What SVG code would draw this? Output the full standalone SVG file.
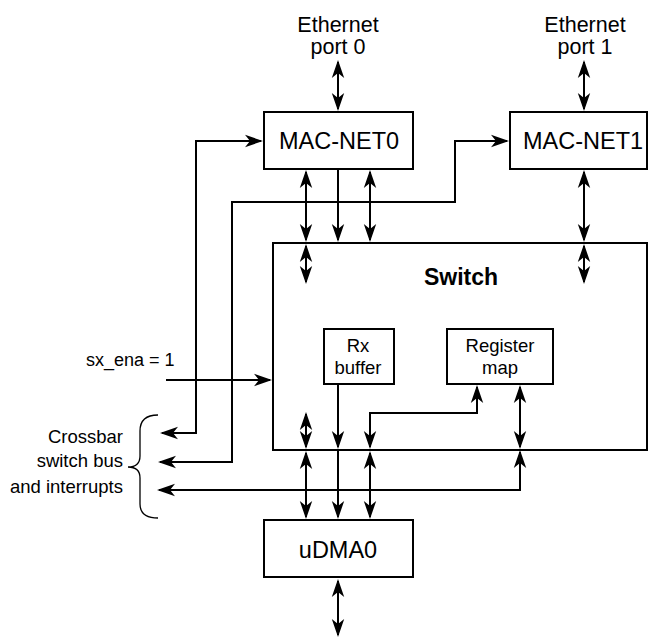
<svg xmlns="http://www.w3.org/2000/svg" width="649" height="639" viewBox="0 0 649 639">
<style>
.box{fill:#fff;stroke:#000;stroke-width:2}
.ln{fill:none;stroke:#000;stroke-width:2}
.t{font-family:"Liberation Sans",Arial,Helvetica,sans-serif;fill:#000}
.m{text-anchor:middle}
.e{text-anchor:end}
</style>
<defs>
<marker id="a" markerUnits="userSpaceOnUse" markerWidth="22" markerHeight="16" viewBox="-18 -8 22 16" refX="0" refY="0" orient="auto-start-reverse">
<path d="M2,0 L-16,-6.2 L-11,0 L-16,6.2 Z" fill="#000"/>
</marker>
</defs>
<rect width="649" height="639" fill="#fff"/>

<g id="switch">
<rect class="box" x="273" y="243" width="374" height="207"/>
<text class="t m" x="461" y="285" font-size="23" font-weight="bold">Switch</text>
</g>
<g id="mac-net0">
<rect class="box" x="264" y="112" width="149" height="57"/>
<text class="t m" x="339" y="149" font-size="23.5">MAC-NET0</text>
</g>
<g id="mac-net1">
<rect class="box" x="510" y="112" width="137" height="57"/>
<text class="t m" x="583" y="149" font-size="23.5">MAC-NET1</text>
</g>
<g id="rx-buffer">
<rect class="box" x="324" y="329" width="70" height="55"/>
<text class="t m" x="358" y="352" font-size="18.5">Rx</text>
<text class="t m" x="358" y="374" font-size="18.5">buffer</text>
</g>
<g id="register-map">
<rect class="box" x="447" y="329" width="106" height="55"/>
<text class="t m" x="500" y="352" font-size="18.5">Register</text>
<text class="t m" x="500" y="374" font-size="18.5">map</text>
</g>
<g id="udma0">
<rect class="box" x="264" y="520" width="149" height="57"/>
<text class="t m" x="338" y="558" font-size="23.5">uDMA0</text>
</g>
<g id="eth0">
<text class="t m" x="338" y="32" font-size="21.5">Ethernet</text>
<text class="t m" x="338" y="54" font-size="21.5">port 0</text>
</g>
<g id="eth1">
<text class="t m" x="585" y="32" font-size="21.5">Ethernet</text>
<text class="t m" x="585" y="54" font-size="21.5">port 1</text>
</g>
<g id="sx-ena">
<text class="t" x="86" y="366" font-size="18">sx_ena = 1</text>
</g>
<g id="crossbar">
<text class="t e" x="123" y="443" font-size="18.5">Crossbar</text>
<text class="t e" x="123" y="467" font-size="18.5">switch bus</text>
<text class="t e" x="123" y="493" font-size="18.5">and interrupts</text>
<path d="M158,415 C147,415 140,420 140,431 L140,456 C140,463 136,467 128,467 C136,467 140,471 140,478 L140,504 C140,514 147,518 158,518" fill="none" stroke="#000" stroke-width="1.3"/>
</g>

<g id="connectors">
<path class="ln" d="M338,62 V109" marker-start="url(#a)" marker-end="url(#a)"/>
<path class="ln" d="M584,62 V109" marker-start="url(#a)" marker-end="url(#a)"/>
<path class="ln" d="M261,141 H196 V433 H162" marker-start="url(#a)" marker-end="url(#a)"/>
<path class="ln" d="M507,141 H455 V202 H232 V462 H160" marker-start="url(#a)" marker-end="url(#a)"/>
<path class="ln" d="M520,452 V490 H159" marker-start="url(#a)" marker-end="url(#a)"/>
<path class="ln" d="M306,172 V240" marker-start="url(#a)" marker-end="url(#a)"/>
<path class="ln" d="M338,170 V240" marker-end="url(#a)"/>
<path class="ln" d="M370,172 V240" marker-start="url(#a)" marker-end="url(#a)"/>
<path class="ln" d="M584,172 V240" marker-start="url(#a)" marker-end="url(#a)"/>
<path class="ln" d="M306,246 V282" marker-start="url(#a)" marker-end="url(#a)"/>
<path class="ln" d="M584,246 V282" marker-start="url(#a)" marker-end="url(#a)"/>
<path class="ln" d="M306,414 V447" marker-start="url(#a)" marker-end="url(#a)"/>
<path class="ln" d="M338,385 V447" marker-end="url(#a)"/>
<path class="ln" d="M477,387 V413 H370 V447" marker-start="url(#a)" marker-end="url(#a)"/>
<path class="ln" d="M520,387 V447" marker-start="url(#a)" marker-end="url(#a)"/>
<path class="ln" d="M306,453 V517" marker-start="url(#a)" marker-end="url(#a)"/>
<path class="ln" d="M338,450 V517" marker-end="url(#a)"/>
<path class="ln" d="M370,453 V517" marker-start="url(#a)" marker-end="url(#a)"/>
<path class="ln" d="M338,581 V635" marker-start="url(#a)" marker-end="url(#a)"/>
<path class="ln" d="M166,380 H270" marker-end="url(#a)"/>
</g>
</svg>
